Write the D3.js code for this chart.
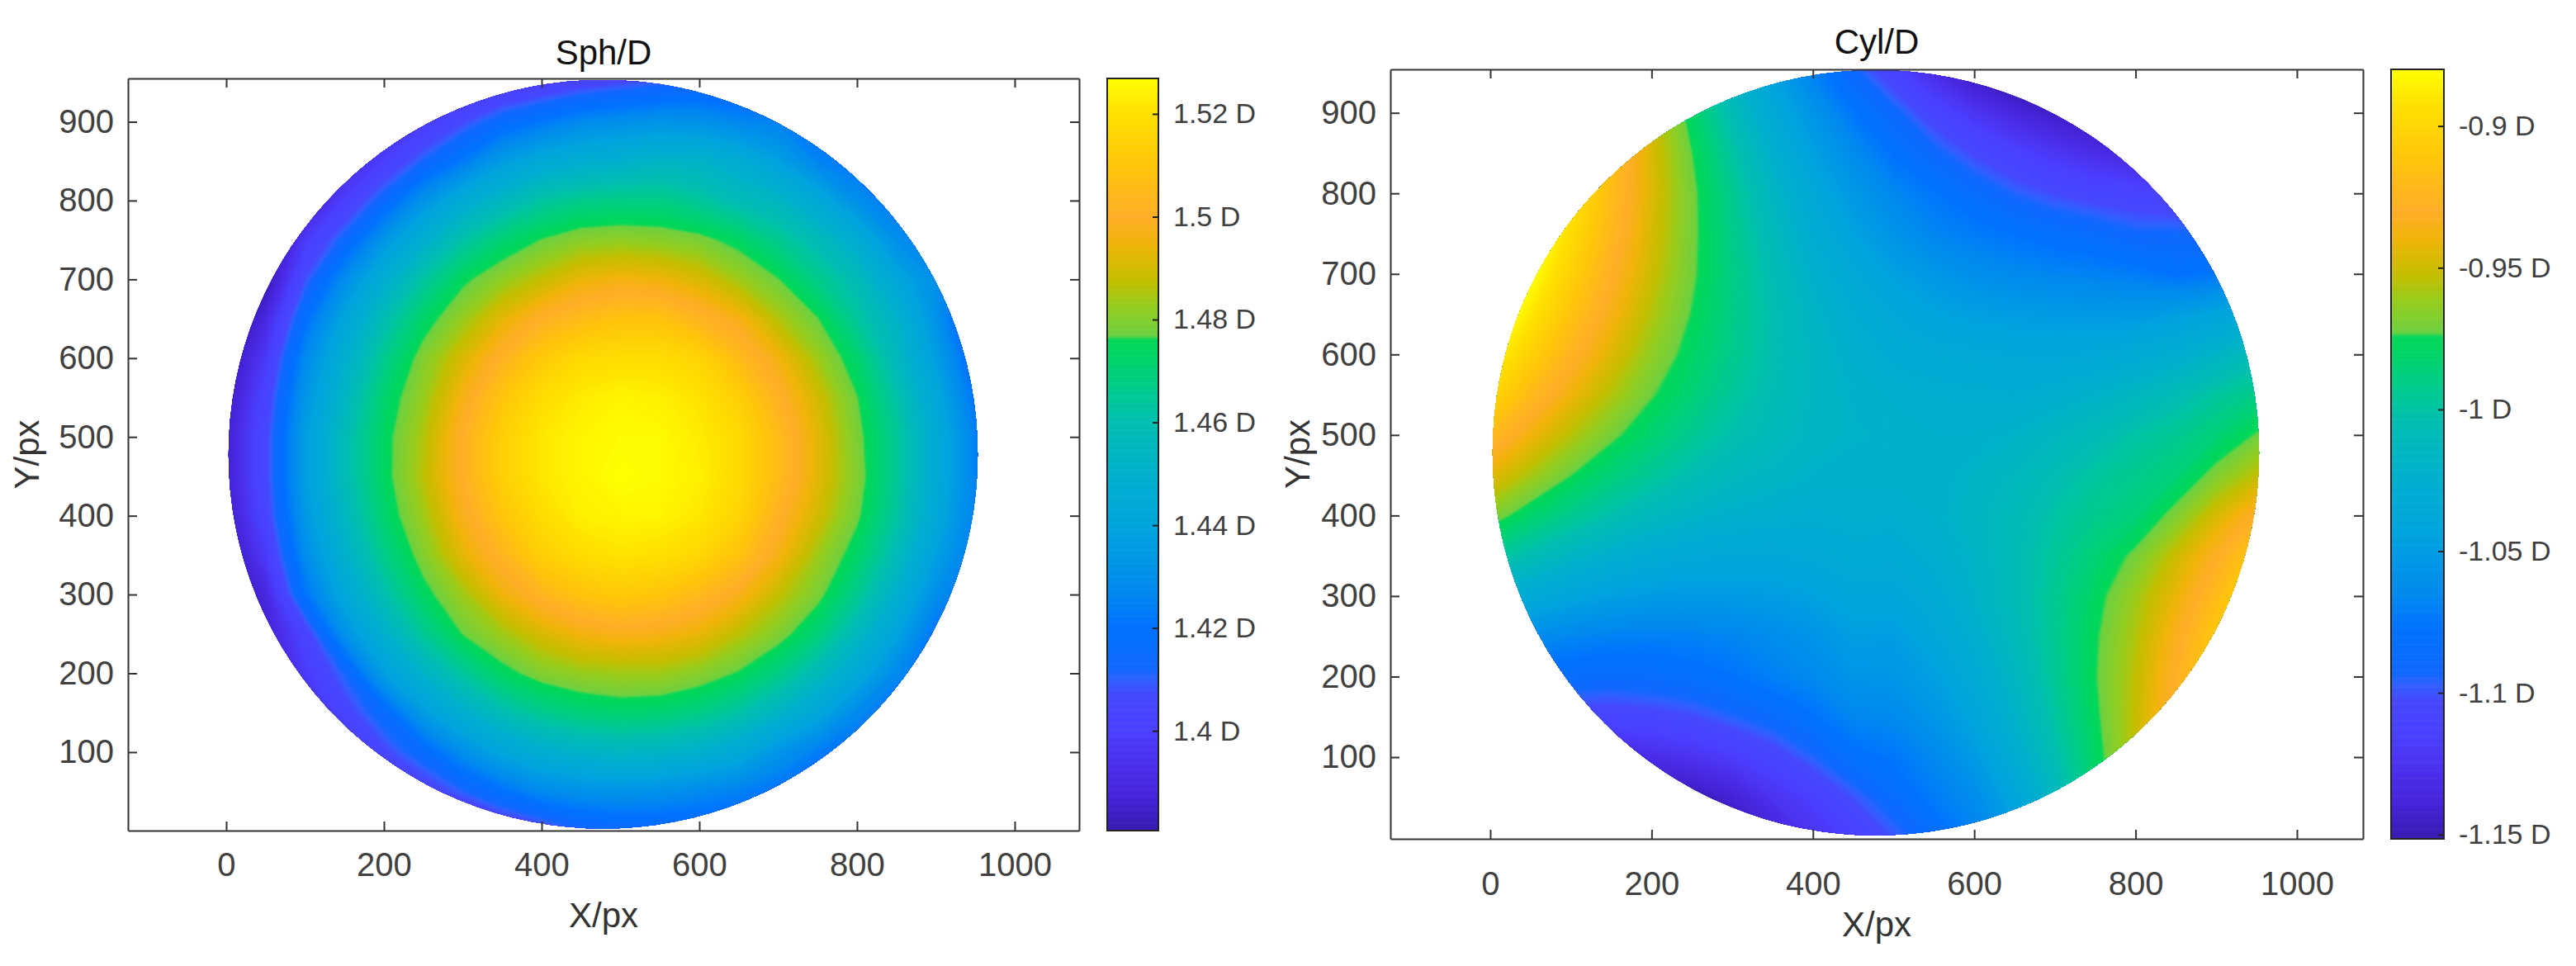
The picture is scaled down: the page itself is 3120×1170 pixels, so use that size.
<!DOCTYPE html>
<html>
<head>
<meta charset="utf-8">
<script src="https://cdn.jsdelivr.net/npm/d3@7"></script>
<style>
  body { margin: 0; background: #fff; }
  text { font-family: "Liberation Sans", Arial, sans-serif; }
</style>
</head>
<body>
<div id="chart"></div>
<script>
// grid nodes of the two maps, in image px
const gridNodes = d3.range(0, 1001, 50)
const xTicks = [0, 200, 400, 600, 800, 1000]
const yTicks = [100, 200, 300, 400, 500, 600, 700, 800, 900]
const sphTicks = [1.4, 1.42, 1.44, 1.46, 1.48, 1.5, 1.52]
const cylTicks = [-1.15, -1.1, -1.05, -1, -0.95, -0.9]
const sphRange = [1.3806, 1.5269]
const cylRange = [-1.1515, -0.880]

// colorbar read from bottom to top
const cmapPos = [0, 0.04, 0.083, 0.133, 0.18, 0.2, 0.215, 0.271, 0.314, 0.4, 0.473, 0.544, 0.577, 0.643, 0.652, 0.658, 0.698, 0.731, 0.78, 0.816, 0.885, 0.954, 1]
const cmapCol = ['#371ab0', '#4522d4', '#4b2eeb', '#4a40ff', '#4648ff', '#3060ff', '#1068ff', '#0072ff', '#0088f0', '#00a4de', '#00b0cd', '#00bfaf', '#00c994', '#00d75c', '#04d75a', '#6ed040', '#96cd1e', '#c4be00', '#f0b40a', '#ffae28', '#ffc60a', '#ffe000', '#ffff00']

// rows run from Y=0 upwards, columns from X=0 rightwards
const sphRows = [
  [1.37,1.37,1.37,1.37,1.375,1.382,1.39,1.398,1.404,1.411,1.414,1.414,1.414,1.414,1.414,1.405,1.395,1.385,1.375,1.37,1.37],
  [1.37,1.37,1.37,1.385,1.392,1.402,1.411,1.42,1.428,1.431,1.432,1.431,1.428,1.425,1.42,1.415,1.41,1.395,1.38,1.37,1.37],
  [1.37,1.375,1.39,1.396,1.406,1.416,1.43,1.441,1.448,1.452,1.454,1.453,1.45,1.444,1.433,1.424,1.418,1.41,1.39,1.375,1.37],
  [1.37,1.38,1.39,1.404,1.416,1.436,1.449,1.459,1.466,1.47,1.472,1.471,1.468,1.462,1.453,1.442,1.428,1.418,1.41,1.39,1.37],
  [1.37,1.385,1.398,1.412,1.437,1.452,1.464,1.474,1.48,1.483,1.484,1.484,1.481,1.476,1.468,1.457,1.444,1.428,1.416,1.4,1.38],
  [1.37,1.386,1.403,1.431,1.45,1.465,1.477,1.484,1.491,1.496,1.498,1.497,1.494,1.487,1.48,1.47,1.456,1.44,1.42,1.41,1.385],
  [1.375,1.39,1.421,1.443,1.46,1.474,1.484,1.495,1.503,1.509,1.512,1.51,1.505,1.498,1.488,1.479,1.466,1.45,1.43,1.418,1.39],
  [1.38,1.398,1.429,1.45,1.467,1.48,1.493,1.503,1.514,1.519,1.521,1.52,1.517,1.509,1.497,1.484,1.473,1.458,1.438,1.422,1.395],
  [1.384,1.404,1.434,1.455,1.472,1.484,1.498,1.51,1.519,1.524,1.525,1.525,1.522,1.516,1.502,1.49,1.478,1.463,1.444,1.425,1.398],
  [1.386,1.406,1.437,1.458,1.474,1.487,1.501,1.514,1.522,1.525,1.527,1.526,1.524,1.518,1.506,1.493,1.48,1.465,1.446,1.425,1.398],
  [1.386,1.406,1.437,1.458,1.474,1.486,1.501,1.514,1.522,1.525,1.526,1.526,1.523,1.518,1.506,1.493,1.479,1.465,1.446,1.425,1.398],
  [1.383,1.403,1.433,1.454,1.472,1.483,1.497,1.51,1.519,1.523,1.525,1.524,1.521,1.514,1.502,1.49,1.477,1.462,1.443,1.421,1.395],
  [1.379,1.398,1.428,1.449,1.466,1.48,1.491,1.502,1.512,1.518,1.519,1.519,1.516,1.506,1.496,1.484,1.472,1.456,1.437,1.415,1.39],
  [1.372,1.39,1.419,1.441,1.459,1.473,1.483,1.493,1.501,1.506,1.509,1.509,1.503,1.497,1.486,1.477,1.464,1.452,1.432,1.407,1.385],
  [1.37,1.38,1.408,1.429,1.448,1.463,1.475,1.482,1.488,1.494,1.496,1.495,1.491,1.484,1.477,1.467,1.458,1.442,1.43,1.41,1.377],
  [1.37,1.375,1.398,1.414,1.433,1.449,1.462,1.471,1.477,1.481,1.482,1.481,1.479,1.474,1.466,1.458,1.447,1.43,1.42,1.4,1.37],
  [1.37,1.37,1.385,1.4,1.415,1.432,1.446,1.455,1.463,1.467,1.468,1.468,1.464,1.458,1.454,1.444,1.43,1.42,1.405,1.376,1.37],
  [1.37,1.37,1.375,1.39,1.4,1.412,1.423,1.436,1.444,1.448,1.45,1.453,1.452,1.447,1.438,1.426,1.42,1.405,1.385,1.37,1.37],
  [1.37,1.37,1.37,1.375,1.39,1.398,1.407,1.416,1.422,1.428,1.43,1.432,1.431,1.427,1.425,1.417,1.4,1.385,1.37,1.37,1.37],
  [1.37,1.37,1.37,1.37,1.375,1.385,1.392,1.396,1.4,1.404,1.407,1.41,1.412,1.412,1.408,1.395,1.38,1.37,1.37,1.37,1.37],
  [1.37,1.37,1.37,1.37,1.37,1.37,1.375,1.38,1.385,1.39,1.392,1.392,1.392,1.39,1.385,1.375,1.37,1.37,1.37,1.37,1.37]
]

const cylRows = [
  [-1.18,-1.18,-1.18,-1.18,-1.175,-1.165,-1.155,-1.14,-1.125,-1.115,-1.1,-1.085,-1.07,-1.051,-1.022,-0.992,-0.961,-0.926,-0.89,-0.851,-0.811],
  [-1.17,-1.17,-1.17,-1.165,-1.155,-1.15,-1.14,-1.125,-1.115,-1.1,-1.085,-1.072,-1.062,-1.039,-1.013,-0.984,-0.956,-0.924,-0.889,-0.854,-0.816],
  [-1.15,-1.15,-1.145,-1.135,-1.13,-1.125,-1.118,-1.108,-1.095,-1.08,-1.075,-1.065,-1.05,-1.028,-1.005,-0.979,-0.952,-0.923,-0.891,-0.857,-0.822],
  [-1.11,-1.11,-1.108,-1.108,-1.106,-1.102,-1.095,-1.087,-1.078,-1.066,-1.064,-1.054,-1.04,-1.02,-0.999,-0.976,-0.952,-0.924,-0.895,-0.864,-0.83],
  [-1.08,-1.085,-1.085,-1.087,-1.085,-1.082,-1.077,-1.07,-1.064,-1.055,-1.054,-1.046,-1.031,-1.015,-0.995,-0.974,-0.953,-0.928,-0.901,-0.872,-0.841],
  [-1.054,-1.061,-1.066,-1.069,-1.07,-1.069,-1.067,-1.062,-1.056,-1.047,-1.048,-1.037,-1.025,-1.01,-0.994,-0.975,-0.956,-0.933,-0.909,-0.882,-0.854],
  [-1.023,-1.032,-1.04,-1.046,-1.049,-1.051,-1.05,-1.048,-1.044,-1.038,-1.038,-1.031,-1.02,-1.008,-0.994,-0.978,-0.96,-0.941,-0.919,-0.894,-0.868],
  [-0.994,-1.006,-1.016,-1.024,-1.03,-1.034,-1.036,-1.036,-1.034,-1.03,-1.031,-1.025,-1.018,-1.008,-0.996,-0.984,-0.97,-0.95,-0.93,-0.909,-0.885],
  [-0.966,-0.981,-0.993,-1.003,-1.012,-1.018,-1.022,-1.024,-1.026,-1.024,-1.025,-1.022,-1.016,-1.009,-1,-0.992,-0.985,-0.968,-0.947,-0.928,-0.905],
  [-0.942,-0.958,-0.973,-0.986,-0.996,-1.005,-1.012,-1.016,-1.02,-1.021,-1.021,-1.021,-1.018,-1.013,-1.006,-0.998,-0.992,-0.985,-0.968,-0.953,-0.935],
  [-0.919,-0.938,-0.955,-0.97,-0.983,-0.994,-1.003,-1.01,-1.016,-1.019,-1.02,-1.022,-1.022,-1.019,-1.014,-1.008,-1,-0.994,-0.985,-0.972,-0.955],
  [-0.898,-0.92,-0.939,-0.956,-0.972,-0.985,-0.997,-1.006,-1.015,-1.02,-1.023,-1.025,-1.026,-1.027,-1.024,-1.02,-1.014,-1.007,-0.998,-0.99,-0.975],
  [-0.88,-0.903,-0.925,-0.945,-0.963,-0.979,-0.992,-1.004,-1.015,-1.023,-1.029,-1.032,-1.034,-1.036,-1.037,-1.035,-1.031,-1.026,-1.018,-1.008,-0.996],
  [-0.863,-0.889,-0.913,-0.935,-0.956,-0.974,-0.99,-1.004,-1.017,-1.027,-1.036,-1.042,-1.046,-1.048,-1.05,-1.051,-1.051,-1.047,-1.041,-1.034,-1.024],
  [-0.848,-0.877,-0.903,-0.928,-0.95,-0.971,-0.989,-1.006,-1.022,-1.034,-1.045,-1.053,-1.06,-1.064,-1.067,-1.069,-1.072,-1.078,-1.075,-1.068,-1.06],
  [-0.835,-0.866,-0.895,-0.922,-0.947,-0.97,-0.991,-1.01,-1.028,-1.043,-1.056,-1.067,-1.072,-1.077,-1.082,-1.086,-1.092,-1.092,-1.094,-1.09,-1.085],
  [-0.824,-0.857,-0.888,-0.918,-0.945,-0.97,-0.993,-1.015,-1.035,-1.052,-1.065,-1.075,-1.085,-1.095,-1.102,-1.107,-1.11,-1.113,-1.115,-1.115,-1.115],
  [-0.815,-0.851,-0.884,-0.916,-0.946,-0.973,-0.999,-1.023,-1.045,-1.062,-1.078,-1.09,-1.103,-1.113,-1.122,-1.13,-1.136,-1.14,-1.145,-1.145,-1.145],
  [-0.808,-0.846,-0.882,-0.916,-0.949,-0.979,-1.007,-1.033,-1.055,-1.075,-1.09,-1.108,-1.123,-1.135,-1.145,-1.152,-1.16,-1.165,-1.17,-1.17,-1.17],
  [-0.804,-0.844,-0.882,-0.919,-0.953,-0.986,-1.016,-1.045,-1.07,-1.09,-1.11,-1.13,-1.148,-1.16,-1.17,-1.18,-1.18,-1.18,-1.18,-1.18,-1.18],
  [-0.801,-0.842,-0.881,-0.92,-0.957,-0.995,-1.027,-1.059,-1.088,-1.11,-1.135,-1.155,-1.17,-1.18,-1.18,-1.18,-1.18,-1.18,-1.18,-1.18,-1.18]
]

const width = 3120
const height = 1170
const svg = d3.select('#chart').append('svg')
  .attr('width', width)
  .attr('height', height)
  .style('display', 'block')

const cmap = d3.scaleLinear().domain(cmapPos).range(cmapCol).clamp(true)

function drawPanel(p) {
  const x = d3.scaleLinear().domain(p.xDomain).range([p.left, p.right])
  const y = d3.scaleLinear().domain(p.yDomain).range([p.bottom, p.top])
  const color = d3.scaleLinear().domain(p.range).range([0, 1]).clamp(true)
  const bar = d3.scaleLinear().domain(p.range).range([p.bottom, p.top])

  // filled map: contour bands over the grid, cut to the lens disc
  svg.append('clipPath').attr('id', p.id + '-disc')
    .append('ellipse')
    .attr('cx', x(478)).attr('cy', y(478))
    .attr('rx', x(478 + 475) - x(478)).attr('ry', y(478) - y(478 + 475))

  const levels = d3.range(0, 300).map(i => p.range[0] + (p.range[1] - p.range[0]) * i / 300)
  const contours = d3.contours().size([gridNodes.length, gridNodes.length]).thresholds(levels)(p.rows.flat())
  const step = gridNodes[1] - gridNodes[0]
  const path = d3.geoPath(d3.geoTransform({
    point(gx, gy) {
      this.stream.point(x(gridNodes[0] + (gx - 0.5) * step), y(gridNodes[0] + (gy - 0.5) * step))
    }
  }))
  const map = svg.append('g').attr('clip-path', `url(#${p.id}-disc)`)
  map.append('rect')
    .attr('x', x(0)).attr('y', y(1000))
    .attr('width', x(1000) - x(0)).attr('height', y(0) - y(1000))
    .attr('fill', cmap(0))
  map.selectAll('path').data(contours).join('path')
    .attr('d', path)
    .attr('fill', d => cmap(color(d.value)))

  // axes box
  const axes = [
    [d3.axisBottom(x).tickValues(xTicks).tickFormat(d3.format('d')).tickSizeInner(-11).tickPadding(p.xPad), 0, p.bottom],
    [d3.axisTop(x).tickValues(xTicks).tickFormat('').tickSizeInner(-11), 0, p.top],
    [d3.axisLeft(y).tickValues(yTicks).tickFormat(d3.format('d')).tickSizeInner(-11).tickPadding(17), p.left, 0],
    [d3.axisRight(y).tickValues(yTicks).tickFormat('').tickSizeInner(-11), p.right, 0]
  ]
  axes.forEach(([axis, tx, ty]) => {
    const g = svg.append('g').attr('transform', `translate(${tx},${ty})`).call(axis.tickSizeOuter(0))
    g.selectAll('path, line').attr('stroke', '#333').attr('stroke-width', 2)
    g.selectAll('text').attr('fill', '#404040').style('font-size', '40px')
    g.attr('font-family', null)
  })

  svg.append('text').attr('x', (p.left + p.right) / 2).attr('y', p.titleY)
    .attr('text-anchor', 'middle').attr('fill', '#111').style('font-size', '42px').text(p.title)
  svg.append('text').attr('x', (p.left + p.right) / 2).attr('y', p.xLabelY)
    .attr('text-anchor', 'middle').attr('fill', '#333').style('font-size', '42px').text('X/px')
  svg.append('text').attr('transform', `translate(${p.yLabelX},${(p.top + p.bottom) / 2}) rotate(-90)`)
    .attr('text-anchor', 'middle').attr('fill', '#333').style('font-size', '42px').text('Y/px')

  // colorbar
  const cells = d3.range(0, 1, 1 / 512)
  const cellH = (p.bottom - p.top) / 512
  svg.append('g').selectAll('rect').data(cells).join('rect')
    .attr('x', p.barLeft)
    .attr('y', d => p.bottom - (d * (p.bottom - p.top)) - cellH)
    .attr('width', p.barRight - p.barLeft)
    .attr('height', cellH + 0.6)
    .attr('fill', d => cmap(d))
  svg.append('rect')
    .attr('x', p.barLeft).attr('y', p.top)
    .attr('width', p.barRight - p.barLeft).attr('height', p.bottom - p.top)
    .attr('fill', 'none').attr('stroke', '#222').attr('stroke-width', 2)
  const barAxis = svg.append('g').attr('transform', `translate(${p.barRight},0)`)
    .call(d3.axisRight(bar).tickValues(p.ticks).tickFormat(d => d + ' D').tickSizeInner(-7).tickSizeOuter(0).tickPadding(18))
  barAxis.select('.domain').remove()
  barAxis.selectAll('line').attr('stroke', '#222').attr('stroke-width', 2)
  barAxis.selectAll('text').attr('fill', '#404040').style('font-size', '34px')
  barAxis.attr('font-family', null)
}

drawPanel({
  id: 'sph', title: 'Sph/D', rows: sphRows, range: sphRange, ticks: sphTicks,
  left: 155, right: 1307, top: 95, bottom: 1006,
  xDomain: [-124.6, 1081.7], yDomain: [0.4, 955],
  titleY: 78, xLabelY: 1123, yLabelX: 47, xPad: 27,
  barLeft: 1341, barRight: 1403
})

drawPanel({
  id: 'cyl', title: 'Cyl/D', rows: cylRows, range: cylRange, ticks: cylTicks,
  left: 1684, right: 2862, top: 84, bottom: 1016,
  xDomain: [-123.8, 1081.9], yDomain: [-1.5, 954],
  titleY: 65, xLabelY: 1134, yLabelX: 1586, xPad: 40,
  barLeft: 2896, barRight: 2960
})
</script>
</body>
</html>
